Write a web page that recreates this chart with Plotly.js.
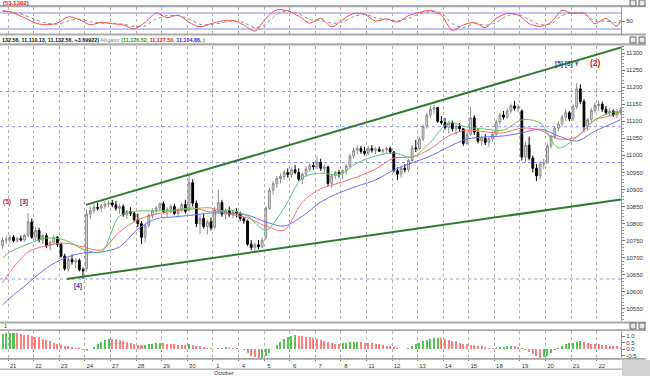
<!DOCTYPE html>
<html><head><meta charset="utf-8">
<script src="https://cdn.plot.ly/plotly-3.0.1.min.js"></script>
<style>html,body{margin:0;padding:0;background:#fff;}#chart{width:650px;height:376px;}</style>
</head><body><div id="chart"></div>
<script>
// ---------- DATA ----------
const dayLabels = ['21','22','23','24','27','28','29','30','1','4','5','6','7','8','11','12','13','14','15','18','19','20','21','22'];
const firstBar = -2; // two bars of the previous session on the left edge

const opens = [10735,10752,
 10753,10760,10750,10756,10752,10766,10805,
 10760,10780,10752,10765,10735,10745,10760,
 10739,10705,10668,10695,10688,10692,10665,
 10668,10828,10838,10848,10845,10852,10858,
 10860,10855,10845,10850,10826,10835,10830,
 10812,10800,10760,10795,10825,10838,10846,
 10858,10836,10842,10850,10830,10840,10856,
 10840,10920,10860,10800,10815,10792,10805,
 10790,10840,10862,10828,10838,10826,10835,
 10829,10815,10808,10740,10730,10738,10732,
 10760,10845,10898,10918,10932,10938,10950,
 10944,10958,10950,10930,10945,10960,10970,
 10967,10980,10962,10966,10918,10940,10950,
 10948,10955,10968,10998,11015,11020,11012,
 11006,11020,11015,11018,11012,11016,11020,
 11010,10955,10945,10962,10958,10985,11022,
 11020,11048,11085,11118,11135,11140,11100,
 11096,11082,11095,11078,11085,11078,11035,
 11062,11110,11068,11042,11050,11038,11048,
 11062,11098,11118,11112,11130,11145,11138,
 11130,10995,11030,10992,10962,10940,10975,
 10978,11028,11055,11080,11092,11112,11125,
 11107,11142,11195,11158,11085,11105,11132,
 11146,11150,11135,11125,11130,11118,11128];
const highs = [10760,10765,
 10768,10766,10762,10765,10770,10831,10815,
 10790,10788,10770,10772,10750,10768,10764,
 10745,10712,10700,10710,10700,10698,10672,
 10842,10850,10858,10862,10858,10866,10868,
 10870,10866,10858,10856,10840,10848,10836,
 10830,10808,10800,10830,10845,10852,10862,
 10866,10848,10856,10858,10845,10862,10870,
 10944,10930,10868,10825,10830,10812,10818,
 10850,10900,10870,10845,10850,10842,10845,
 10835,10820,10812,10752,10745,10752,10758,
 10850,10905,10925,10940,10948,10958,10962,
 10965,10972,10962,10950,10968,10978,10980,
 10998,10990,10972,10970,10945,10955,10958,
 10960,10975,11005,11022,11030,11028,11025,
 11028,11030,11024,11026,11020,11025,11026,
 11012,10965,10970,10975,10990,11030,11045,
 11055,11090,11125,11145,11148,11142,11115,
 11110,11100,11102,11090,11095,11080,11070,
 11142,11118,11078,11058,11062,11055,11070,
 11105,11125,11130,11138,11152,11160,11150,
 11135,11040,11055,11000,10975,10985,10990,
 11035,11060,11085,11100,11120,11135,11130,
 11150,11212,11208,11165,11110,11140,11155,
 11160,11158,11145,11138,11135,11135,11140];
const lows = [10725,10740,
 10742,10745,10744,10748,10748,10760,10755,
 10750,10745,10740,10728,10722,10738,10732,
 10700,10662,10660,10680,10670,10660,10638,
 10660,10815,10830,10838,10835,10843,10848,
 10848,10838,10828,10820,10815,10822,10805,
 10790,10740,10745,10788,10815,10828,10838,
 10830,10820,10830,10825,10818,10834,10830,
 10835,10850,10790,10770,10785,10768,10780,
 10785,10830,10820,10812,10820,10815,10818,
 10808,10800,10735,10722,10718,10725,10728,
 10752,10840,10885,10905,10918,10928,10935,
 10935,10945,10925,10915,10938,10952,10958,
 10960,10955,10950,10910,10905,10930,10935,
 10930,10945,10962,10990,11002,11005,11000,
 11000,11008,11004,11010,11002,11008,11005,
 10950,10928,10935,10950,10952,10980,11010,
 11015,11042,11078,11110,11122,11095,11090,
 11075,11065,11070,11060,11070,11028,11030,
 11058,11060,11035,11028,11030,11025,11040,
 11055,11090,11105,11108,11122,11132,11128,
 10985,10980,10985,10950,10925,10930,10960,
 10975,11020,11048,11070,11085,11100,11100,
 11100,11135,11150,11070,11072,11098,11125,
 11130,11128,11118,11115,11112,11110,11120];
const closes = [10752,10753,
 10760,10750,10756,10752,10766,10805,10760,
 10780,10752,10765,10735,10745,10760,10739,
 10705,10668,10695,10688,10692,10665,10662,
 10828,10838,10848,10845,10852,10858,10860,
 10855,10845,10850,10826,10835,10830,10812,
 10800,10760,10795,10825,10838,10846,10858,
 10836,10842,10850,10830,10840,10856,10836,
 10920,10860,10800,10815,10792,10805,10788,
 10840,10862,10828,10838,10826,10835,10829,
 10815,10808,10740,10730,10738,10732,10751,
 10845,10898,10918,10932,10938,10950,10944,
 10958,10950,10930,10945,10960,10970,10967,
 10980,10962,10966,10918,10940,10950,10948,
 10955,10968,10998,11015,11020,11012,11006,
 11020,11015,11018,11012,11016,11020,11010,
 10955,10945,10962,10958,10985,11022,11020,
 11048,11085,11118,11135,11140,11100,11096,
 11082,11095,11078,11085,11078,11035,11062,
 11110,11068,11042,11050,11038,11048,11062,
 11098,11118,11112,11130,11145,11138,11143,
 10995,11030,10992,10962,10940,10975,10978,
 11028,11055,11080,11092,11112,11125,11107,
 11142,11195,11158,11085,11105,11132,11146,
 11150,11135,11125,11130,11118,11128,11132.56];

// Alligator lines (sampled)
const alligX = [-2,0,5,10,15,20,25,30,35,40,45,50,55,60,65,70,75,80,85,90,95,100,105,110,115,120,125,130,135,140,145,150,155,160,165,167];
const lips  = [10699,10717,10740,10758,10752,10726,10717,10822,10837,10837,10840,10846,10834,10840,10822,10781,10846,10934,10948,10943,10978,10998,11007,10995,11039,11095,11083,11077,11074,11104,11095,11022,11054,11104,11127,11126];
const teeth = [10626,10658,10717,10735,10743,10732,10723,10776,10811,10828,10837,10843,10846,10828,10817,10793,10781,10863,10902,10919,10937,10960,10992,10995,11019,11057,11074,11069,11066,11080,11074,11048,11054,11104,11118,11127];
const jaw   = [10562,10582,10626,10670,10699,10714,10717,10732,10784,10814,10820,10825,10831,10831,10825,10805,10793,10822,10863,10890,10910,10928,10957,10978,10998,11025,11048,11054,11057,11066,11077,11057,11042,11071,11095,11105];

// Trend channel and horizontal levels
const upperChannelX = [20.8, 167.1], upperChannelY = [10855, 11316];
const lowerChannelX = [15.6, 167.1], lowerChannelY = [10638, 10871];
const levels = [11187, 11084, 10979, 10638];

// Oscillator (top panel)
const oscX = [-2,1,4,7,10,13,16,19,22,25,28,31,34,37,40,43,46,49,52,55,58,61,64,67,70,73,76,79,82,85,88,91,94,97,100,103,106,109,112,115,118,121,124,127,130,133,136,139,142,145,148,151,154,157,160,163,166,167];
const oscMain = [90,80,62,42,36,42,66,55,36,45,40,35,20,45,80,62,72,45,28,40,50,52,35,12,60,92,88,68,42,60,28,55,78,75,50,58,46,70,82,90,72,15,35,45,25,60,78,72,40,30,45,90,78,80,40,60,30,53];
const oscSignal = [86,84,72,55,42,38,50,58,48,42,42,38,30,32,58,70,70,58,38,36,44,50,44,25,38,75,88,78,55,52,42,46,66,76,62,55,50,60,76,86,80,40,26,40,34,44,70,75,55,36,40,70,82,78,50,50,44,46];
const oscTicks = [50];

// Awesome oscillator histogram (one per bar)
const aoVals = [1.15,1.2,
 1.22,1.24,1.2,1.15,1.1,1.05,1.0,
 0.95,0.9,0.8,0.7,0.6,0.5,0.42,
 0.3,0.25,0.2,0.15,0.1,0.05,-0.1,
 -0.15,0.0,0.15,0.35,0.55,0.72,0.8,
 0.78,0.74,0.68,0.6,0.52,0.45,0.38,
 0.32,0.28,0.32,0.38,0.42,0.45,0.48,
 0.46,0.42,0.4,0.36,0.34,0.33,0.3,
 0.35,0.32,0.25,0.2,0.15,0.1,0.05,
 0.02,0.05,0.1,0.12,0.1,0.08,0.06,
 0.0,-0.1,-0.3,-0.5,-0.65,-0.75,-0.7,
 -0.55,-0.3,0.0,0.3,0.55,0.75,0.9,
 1.0,1.05,1.02,0.98,0.95,0.9,0.85,
 0.8,0.72,0.65,0.55,0.48,0.42,0.4,
 0.45,0.5,0.52,0.55,0.56,0.53,0.5,
 0.48,0.45,0.4,0.35,0.3,0.25,0.2,
 0.12,0.05,0.0,0.02,0.1,0.25,0.38,
 0.5,0.62,0.72,0.8,0.85,0.88,0.85,
 0.8,0.72,0.65,0.58,0.5,0.42,0.36,
 0.33,0.3,0.25,0.2,0.15,0.1,0.08,
 0.1,0.15,0.18,0.2,0.22,0.2,0.18,
 0.05,-0.1,-0.25,-0.4,-0.55,-0.7,-0.65,
 -0.5,-0.3,-0.1,0.1,0.25,0.38,0.45,
 0.5,0.55,0.58,0.52,0.45,0.4,0.38,
 0.35,0.3,0.28,0.25,0.22,0.2,0.18];
const aoTicks = [1, 0.5, 0, -0.5];
const aoTickText = ['1.0','0.5','0.0','-0.5'];

// ---------- LAYOUT HELPERS ----------
const W = 650, H = 376;
const PW = 621;                       // right edge of plot area (px)
const py = p => 1 - p / H;            // pixel row -> paper y
const pxp = p => p / W;               // pixel column -> paper x
const barsPerDay = 7;
const barX = opens.map((_, k) => k + firstBar);
const dayTicks = dayLabels.map((_, d) => d * barsPerDay - 0.5);
const xRange = [-2.69, 167.12];
const font = 'Liberation Sans, Arial, sans-serif';

const aoColors = aoVals.map((v, i) => (i === 0 || v >= aoVals[i - 1]) ? '#55c455' : '#ff8080');

const traces = [
  // top oscillator
  {type:'scatter', mode:'lines', x:oscX, y:oscSignal, xaxis:'x', yaxis:'y',
   line:{color:'#8a8a8a', width:1, dash:'dot', shape:'spline', smoothing:0.8}, hoverinfo:'skip'},
  {type:'scatter', mode:'lines', x:oscX, y:oscMain, xaxis:'x', yaxis:'y',
   line:{color:'#ff4a4a', width:1, shape:'spline', smoothing:0.8}, hoverinfo:'skip'},
  // candles
  {type:'candlestick', x:barX, open:opens, high:highs, low:lows, close:closes, xaxis:'x2', yaxis:'y2',
   increasing:{line:{color:'#8c8c8c', width:1}, fillcolor:'#e0e0e0'},
   decreasing:{line:{color:'#000000', width:1}, fillcolor:'#000000'},
   whiskerwidth:0, hoverinfo:'skip'},
  // alligator
  {type:'scatter', mode:'lines', x:alligX, y:jaw, xaxis:'x2', yaxis:'y2',
   line:{color:'#6b6bff', width:1, shape:'spline', smoothing:0.9}, hoverinfo:'skip'},
  {type:'scatter', mode:'lines', x:alligX, y:teeth, xaxis:'x2', yaxis:'y2',
   line:{color:'#ff6b6b', width:1, shape:'spline', smoothing:0.9}, hoverinfo:'skip'},
  {type:'scatter', mode:'lines', x:alligX, y:lips, xaxis:'x2', yaxis:'y2',
   line:{color:'#5cc45c', width:1, shape:'spline', smoothing:0.9}, hoverinfo:'skip'},
  // channel
  {type:'scatter', mode:'lines', x:upperChannelX, y:upperChannelY, xaxis:'x2', yaxis:'y2',
   line:{color:'#2f7a2f', width:2}, hoverinfo:'skip'},
  {type:'scatter', mode:'lines', x:lowerChannelX, y:lowerChannelY, xaxis:'x2', yaxis:'y2',
   line:{color:'#2f7a2f', width:2}, hoverinfo:'skip'},
  // AO histogram
  {type:'bar', x:barX, y:aoVals, xaxis:'x3', yaxis:'y3', width:0.55,
   marker:{color:aoColors, line:{width:0}}, hoverinfo:'skip'}
];

const xCommon = {range:xRange, domain:[0, PW / W], showgrid:true, gridcolor:'#b0b0b0', griddash:'dot', gridwidth:1,
  tickmode:'array', tickvals:dayTicks, ticktext:dayLabels, zeroline:false, fixedrange:true};

const tickFont = {family:font, size:6, color:'#333'};

const shapes = [];
levels.forEach(v => shapes.push({type:'line', xref:'x2 domain', x0:0, x1:1, yref:'y2', y0:v, y1:v,
  line:{color:'#8c8cff', width:1, dash:'dot'}, layer:'below'}));
[80, 20].forEach(v => shapes.push({type:'line', xref:'x domain', x0:0, x1:1, yref:'y', y0:v, y1:v,
  line:{color:'#8484ff', width:1}, layer:'below'}));
// separator bands
[[5,7.2],[33.6,35.6],[43.2,45.4],[321.6,323.4],[329.2,331],[358,359.8],[368.4,369.8]].forEach(b =>
  shapes.push({type:'rect', xref:'paper', yref:'paper', x0:0, x1:pxp(646), y0:py(b[1]), y1:py(b[0]),
    fillcolor:'#a9a9a9', line:{width:0}, layer:'above'}));
// bottom-right block
shapes.push({type:'rect', xref:'paper', yref:'paper', x0:pxp(622), x1:1, y0:0, y1:py(360),
  fillcolor:'#d2d2d2', line:{width:0}});
// small window buttons
[0, 37, 323].forEach(t => [630, 639].forEach(l => shapes.push({type:'rect', xref:'paper', yref:'paper',
  x0:pxp(l), x1:pxp(l + 6), y0:py(t + 6), y1:py(t), fillcolor:'#e6e6e6', line:{color:'#666', width:1}})));

const annotations = [
  {xref:'paper', yref:'paper', x:pxp(1), y:py(2.5), xanchor:'left', yanchor:'middle', showarrow:false,
   text:'<b>(53.1302)</b>', font:{family:font, size:6, color:'#e02020'}},
  {xref:'paper', yref:'paper', x:pxp(0), y:py(39.8), xanchor:'left', yanchor:'middle', showarrow:false,
   text:'<b>132.56, 11,110.13, 11,132.56, +3.69922)</b> <span style="color:#8a8a8a">Alligator</span> ' +
        '<b><span style="color:#1f9a1f">(11,126.52,</span> <span style="color:#ee1111">11,127.50,</span> ' +
        '<span style="color:#2222ee">11,104.86,</span></b> )',
   font:{family:font, size:5.4, color:'#111'}},
  {xref:'paper', yref:'paper', x:pxp(2), y:py(326.2), xanchor:'left', yanchor:'middle', showarrow:false,
   text:'1', font:{family:font, size:5.5, color:'#333'}},
  {xref:'paper', yref:'paper', x:pxp(212), y:py(373), xanchor:'left', yanchor:'middle', showarrow:false,
   text:'October', font:{family:font, size:5.5, color:'#333'}},
  {xref:'x2', yref:'y2', x:-0.8, y:10863, showarrow:false, text:'<b>(5)</b>', font:{family:font, size:6.5, color:'#e02020'}},
  {xref:'x2', yref:'y2', x:3.9, y:10863, showarrow:false, text:'<b>[3]</b>', font:{family:font, size:6.5, color:'#3535b0'}},
  {xref:'x2', yref:'y2', x:18.6, y:10617, showarrow:false, text:'<b>[4]</b>', font:{family:font, size:6.5, color:'#3535b0'}},
  {xref:'x2', yref:'y2', x:152.3, y:11268, showarrow:false, text:'<b>[5] [3] Y</b>', font:{family:font, size:6.5, color:'#3535b0'}},
  {xref:'x2', yref:'y2', x:160.2, y:11270, showarrow:false, text:'<b>(2)</b>', font:{family:font, size:8.5, color:'#e02020'}}
];

const layout = {
  width:W, height:H, margin:{l:0, r:0, t:0, b:0}, paper_bgcolor:'#ffffff', plot_bgcolor:'#ffffff',
  showlegend:false, hovermode:false, bargap:0, font:{family:font},
  xaxis:Object.assign({}, xCommon, {anchor:'y', showticklabels:false, ticks:''}),
  xaxis2:Object.assign({}, xCommon, {anchor:'y2', showticklabels:false, ticks:'', rangeslider:{visible:false}}),
  xaxis3:Object.assign({}, xCommon, {anchor:'y3', showticklabels:true, ticks:'outside', ticklen:2, tickcolor:'#777',
    tickfont:tickFont, ticklabelshift:5, ticklabelstandoff:0, showline:true, linecolor:'#888',
    minor:{tickmode:'linear', tick0:-0.5, dtick:1, ticks:'outside', ticklen:1, tickcolor:'#999', showgrid:false}}),
  yaxis:{domain:[py(34), py(7)], range:[1.25, 102.5], side:'right', anchor:'x', tickmode:'array', tickvals:oscTicks,
    ticktext:oscTicks.map(String), tickfont:tickFont, ticks:'outside', ticklen:3, tickcolor:'#777',
    showgrid:false, zeroline:false, showline:true, linecolor:'#999', fixedrange:true},
  yaxis2:{domain:[py(321), py(46)], range:[10514.8, 11320.5], side:'right', anchor:'x2', tickmode:'linear',
    tick0:10550, dtick:50, tickformat:'d', tickfont:tickFont, ticks:'outside', ticklen:3, tickcolor:'#777',
    minor:{tickmode:'linear', tick0:10550, dtick:10, ticks:'outside', ticklen:1.5, tickcolor:'#999', showgrid:false},
    showgrid:false, zeroline:false, showline:true, linecolor:'#999', fixedrange:true},
  yaxis3:{domain:[py(358), py(331)], range:[-0.692, 1.385], side:'right', anchor:'x3', tickmode:'array',
    tickvals:aoTicks, ticktext:aoTickText, tickfont:tickFont, ticks:'outside', ticklen:3, tickcolor:'#777',
    showgrid:false, zeroline:false, showline:true, linecolor:'#999', fixedrange:true},
  shapes:shapes, annotations:annotations
};

Plotly.newPlot('chart', traces, layout, {staticPlot:true, displayModeBar:false});
</script></body></html>
